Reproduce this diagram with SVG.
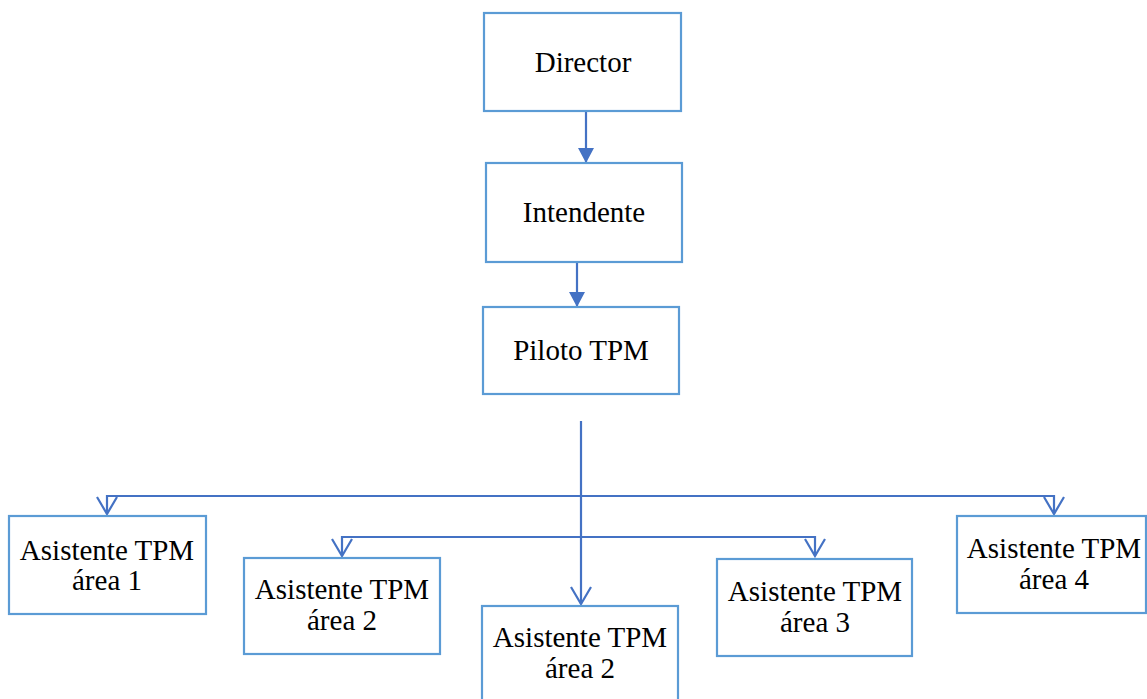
<svg xmlns="http://www.w3.org/2000/svg" width="1147" height="699" viewBox="0 0 1147 699">
  <style>
    .box { fill: #ffffff; stroke: #5B9BD5; stroke-width: 2.2; }
    .lbl { font-family: "Liberation Serif", "Times New Roman", serif; font-size: 29px; fill: #000000; text-anchor: middle; }
    .wire { fill: none; stroke: #4472C4; stroke-width: 2.2; }
  </style>
  <defs>
    <marker id="solid" viewBox="0 0 15 16" refX="15" refY="8" markerWidth="15" markerHeight="16" markerUnits="userSpaceOnUse" orient="auto">
      <path d="M0,0 L15,8 L0,16 Z" fill="#4472C4"/>
    </marker>
    <marker id="open" viewBox="-2 -2 21 24" refX="17" refY="10" markerWidth="21" markerHeight="24" markerUnits="userSpaceOnUse" orient="auto">
      <path d="M0,0 L17,10 L0,20" fill="none" stroke="#4472C4" stroke-width="2.2"/>
    </marker>
  </defs>

  <rect width="1147" height="699" fill="#ffffff"/>

  <g id="connectors">
    <line class="wire" x1="586" y1="111" x2="586" y2="163" marker-end="url(#solid)"/>
    <line class="wire" x1="577" y1="262" x2="577" y2="307" marker-end="url(#solid)"/>
    <line class="wire" x1="581" y1="421" x2="581" y2="604" marker-end="url(#open)"/>
    <path class="wire" d="M581,496 H107 V514" marker-end="url(#open)"/>
    <path class="wire" d="M581,496 H1054 V514" marker-end="url(#open)"/>
    <path class="wire" d="M581,537 H342 V556" marker-end="url(#open)"/>
    <path class="wire" d="M581,537 H815 V556" marker-end="url(#open)"/>
  </g>

  <g id="director">
    <rect class="box" x="484" y="13" width="197" height="98"/>
    <text class="lbl" x="583" y="72">Director</text>
  </g>

  <g id="intendente">
    <rect class="box" x="486" y="163" width="196" height="99"/>
    <text class="lbl" x="584" y="222">Intendente</text>
  </g>

  <g id="piloto">
    <rect class="box" x="483" y="307" width="196" height="87"/>
    <text class="lbl" x="581" y="360">Piloto TPM</text>
  </g>

  <g id="asistente-1">
    <rect class="box" x="9" y="516" width="197" height="98"/>
    <text class="lbl" x="107" y="560">Asistente TPM</text>
    <text class="lbl" x="107" y="590">área 1</text>
  </g>

  <g id="asistente-2a">
    <rect class="box" x="244" y="558" width="196" height="96"/>
    <text class="lbl" x="342" y="599">Asistente TPM</text>
    <text class="lbl" x="342" y="630">área 2</text>
  </g>

  <g id="asistente-2b">
    <rect class="box" x="482" y="606" width="196" height="98"/>
    <text class="lbl" x="580" y="647">Asistente TPM</text>
    <text class="lbl" x="580" y="678">área 2</text>
  </g>

  <g id="asistente-3">
    <rect class="box" x="717" y="559" width="195" height="97"/>
    <text class="lbl" x="815" y="601">Asistente TPM</text>
    <text class="lbl" x="815" y="632">área 3</text>
  </g>

  <g id="asistente-4">
    <rect class="box" x="957" y="516" width="189" height="97"/>
    <text class="lbl" x="1054" y="558">Asistente TPM</text>
    <text class="lbl" x="1054" y="589">área 4</text>
  </g>
</svg>
